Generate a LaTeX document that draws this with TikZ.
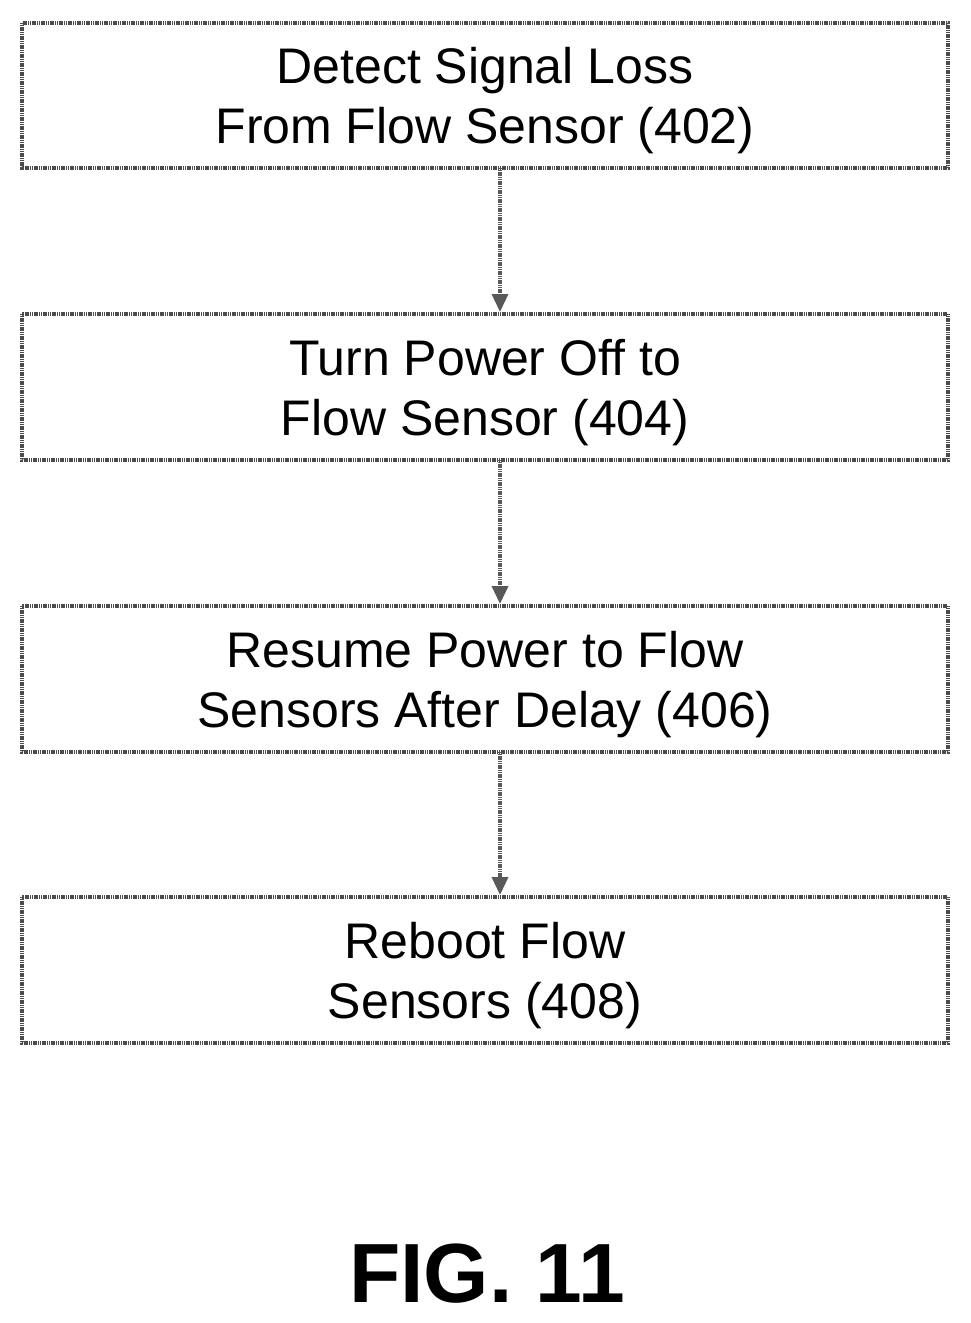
\documentclass[tikz,border=0pt]{standalone}
\usepackage{fontspec}
\setmainfont{Liberation Sans}
\usetikzlibrary{arrows.meta}
\begin{document}
\begin{tikzpicture}[x=1pt,y=-1pt,
  box/.style={draw=black!70,line width=3.5pt,dash pattern=on 1.2pt off 0.6pt},
  lbl/.style={align=center,font=\fontsize{50}{60}\selectfont},
  arr/.style={draw=black!65,line width=3.5pt,dash pattern=on 1.2pt off 0.6pt,-{Triangle[length=18pt,width=16pt]}}]
\useasboundingbox (0,0) rectangle (970,1323);
\draw[box] (22,23) rectangle (948,168);
\draw[box] (22,314) rectangle (948,460);
\draw[box] (22,606) rectangle (948,752);
\draw[box] (22,897) rectangle (948,1043);
\node[lbl] (a) at (485,101) {Detect Signal Loss\\From Flow Sensor (402)};
\node[lbl] (b) at (485,393) {Turn Power Off to\\Flow Sensor (404)};
\node[lbl] (c) at (485,685) {Resume Power to Flow\\Sensors After Delay (406)};
\node[lbl] (d) at (485,976) {Reboot Flow\\Sensors (408)};
\coordinate (a1) at (500,168); \coordinate (b0) at (500,312);
\coordinate (b1) at (500,460); \coordinate (c0) at (500,604);
\coordinate (c1) at (500,752); \coordinate (d0) at (500,895);
\draw[arr] (a1) -- (b0);
\draw[arr] (b1) -- (c0);
\draw[arr] (c1) -- (d0);
\node[font=\bfseries\fontsize{84}{90}\selectfont] (f) at (487,1274) {FIG. 11};
\end{tikzpicture}
\end{document}
